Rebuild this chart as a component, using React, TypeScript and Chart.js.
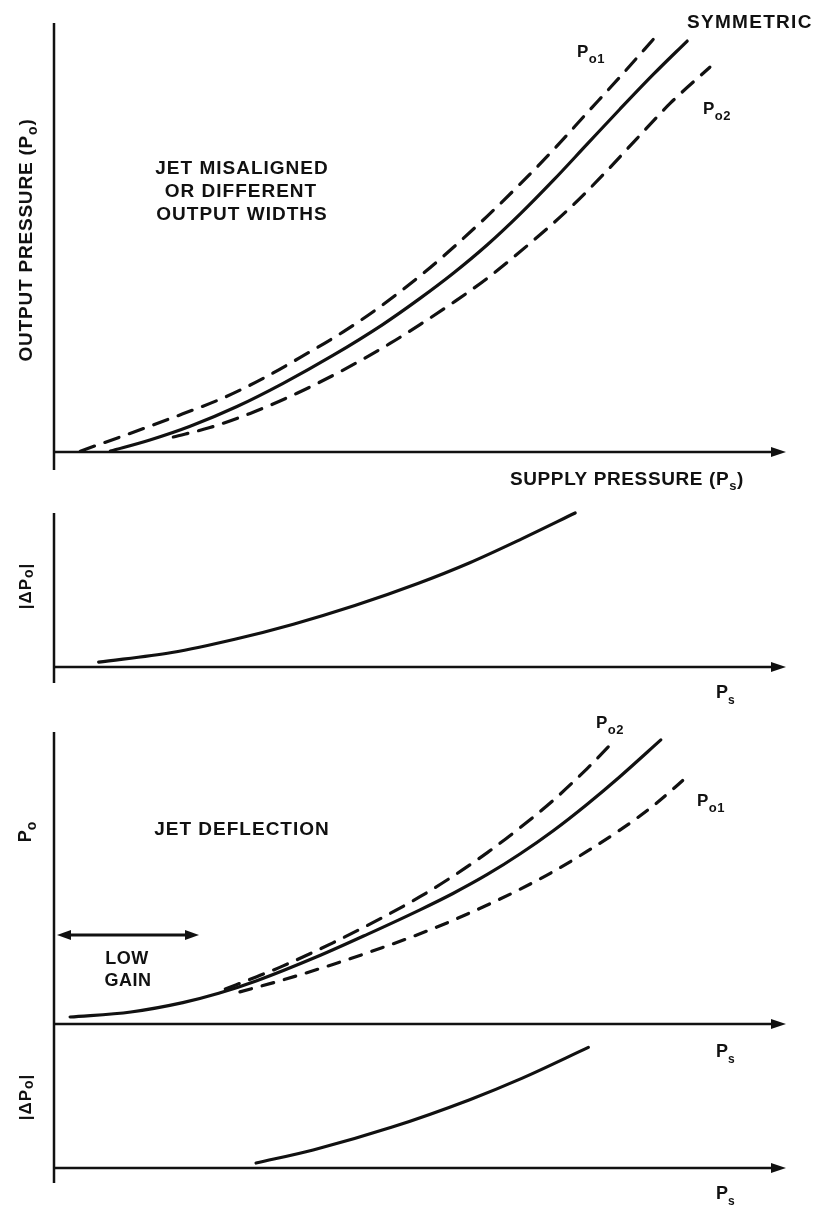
import React, { useEffect, useRef } from "react";
import { Chart, registerables } from "chart.js";

Chart.register(...registerables);

// ---------- DATA (x = supply pressure, relative 0-100; y = relative response 0-100) ----------
// Panel 1: jet misaligned / different output widths
const P1_PO1_X = [3.6, 11.3, 17.6, 23.1, 28.6, 34.0, 39.5, 44.9, 50.7, 54.5, 59.2, 63.7, 68.2, 72.8, 77.3, 82.4];
const P1_PO1_Y = [0.2, 4.9, 8.9, 12.6, 17.2, 22.4, 28.0, 34.3, 42.0, 47.6, 55.0, 62.5, 70.4, 79.0, 87.4, 97.2];
const P1_SYM_X = [7.7, 13.1, 18.6, 25.0, 31.3, 38.1, 44.9, 50.0, 54.5, 59.2, 63.7, 68.2, 72.8, 77.3, 81.8, 86.5];
const P1_SYM_Y = [0.2, 2.8, 6.0, 10.6, 16.0, 22.5, 29.7, 35.8, 41.6, 48.3, 55.5, 63.3, 71.7, 79.9, 87.9, 95.8];
const P1_PO2_X = [16.3, 21.3, 26.8, 33.2, 39.5, 45.9, 50.0, 54.5, 59.2, 65.0, 70.5, 75.0, 79.6, 84.2, 89.6];
const P1_PO2_Y = [3.5, 5.7, 9.0, 13.7, 19.1, 25.3, 29.7, 34.8, 40.5, 48.6, 56.9, 64.6, 73.0, 81.3, 89.7];

// Panel 2: |ΔPo| for panel 1
const P2_X = [6.1, 16.1, 24.7, 32.7, 41.1, 49.7, 56.8, 63.9, 71.2];
const P2_Y = [3.2, 9.4, 18.0, 27.8, 39.9, 54.2, 67.7, 83.2, 100];

// Panel 3: jet deflection
const P3_SYM_X = [2.2, 10.5, 17.6, 22.5, 27.7, 35.9, 42.8, 50.0, 54.5, 59.2, 63.7, 68.2, 72.8, 77.3, 82.9];
const P3_SYM_Y = [2.4, 4.1, 7.3, 10.5, 14.8, 23.0, 30.7, 39.1, 44.7, 51.2, 58.3, 66.2, 75.2, 84.7, 97.3];
const P3_PO2_X = [23.4, 27.7, 31.3, 38.1, 44.9, 50.0, 54.5, 59.2, 63.7, 68.2, 72.8, 76.0];
const P3_PO2_Y = [12.0, 16.2, 19.9, 27.8, 36.5, 43.6, 50.6, 58.7, 67.3, 76.6, 87.4, 95.6];
const P3_PO1_X = [25.4, 31.3, 38.1, 44.9, 50.0, 54.5, 60.0, 63.7, 68.2, 72.8, 77.3, 81.8, 86.9];
const P3_PO1_Y = [11.0, 15.1, 20.4, 26.2, 30.9, 35.5, 41.7, 46.2, 52.2, 59.1, 66.4, 74.6, 85.6];

// Panel 4: |ΔPo| for panel 3
const P4_X = [27.6, 35.4, 46.2, 56.8, 63.9, 73.0];
const P4_Y = [3.9, 14.1, 32.0, 53.4, 70.0, 94.2];

// ---------- STYLE / LAYOUT ----------
const W = 818;
const H = 1211;
const FONT = '"Liberation Sans", Arial, Helvetica, sans-serif';
const INK = "#111";

type Part = { t: string; size: number; dy?: number };
type Label = { parts: Part[]; x: number; y: number; align?: "left" | "center"; sp?: number; rot?: boolean };

const sub = (main: string, s: string, after = "", big = 17, small = 13, dy = 6): Part[] => {
  const p: Part[] = [
    { t: main, size: big },
    { t: s, size: small, dy },
  ];
  if (after) p.push({ t: after, size: big });
  return p;
};

function drawLabel(ctx: CanvasRenderingContext2D, l: Label) {
  ctx.save();
  ctx.translate(l.x, l.y);
  if (l.rot) ctx.rotate(-Math.PI / 2);
  ctx.fillStyle = INK;
  ctx.textBaseline = "alphabetic";
  ctx.textAlign = "left";
  const sp = l.sp || 0;
  let w = 0;
  for (const p of l.parts) {
    ctx.font = `bold ${p.size}px ${FONT}`;
    (ctx as any).letterSpacing = `${sp}px`;
    w += ctx.measureText(p.t).width;
  }
  let cx = l.align === "center" ? -w / 2 : 0;
  for (const p of l.parts) {
    ctx.font = `bold ${p.size}px ${FONT}`;
    (ctx as any).letterSpacing = `${sp}px`;
    ctx.fillText(p.t, cx, p.dy || 0);
    cx += ctx.measureText(p.t).width;
  }
  ctx.restore();
}

const sketchPlugin = {
  id: "sketch",
  beforeDatasetsDraw(chart: any, _args: any, opts: any) {
    const { ctx, chartArea: a } = chart;
    ctx.save();
    ctx.strokeStyle = INK;
    ctx.fillStyle = INK;
    ctx.lineWidth = 2.5;
    ctx.lineCap = "butt";
    ctx.beginPath();
    ctx.moveTo(a.left, a.top - (opts.above || 0));
    ctx.lineTo(a.left, a.bottom + (opts.below || 0));
    ctx.moveTo(a.left, a.bottom);
    ctx.lineTo(a.right - 10, a.bottom);
    ctx.stroke();
    ctx.beginPath();
    ctx.moveTo(a.right, a.bottom);
    ctx.lineTo(a.right - 15, a.bottom - 5);
    ctx.lineTo(a.right - 15, a.bottom + 5);
    ctx.closePath();
    ctx.fill();
    if (opts.doubleArrow) {
      const { x1, x2, y } = opts.doubleArrow;
      ctx.lineWidth = 3;
      ctx.beginPath();
      ctx.moveTo(x1 + 8, y);
      ctx.lineTo(x2 - 8, y);
      ctx.stroke();
      ctx.beginPath();
      ctx.moveTo(x1, y);
      ctx.lineTo(x1 + 14, y - 5);
      ctx.lineTo(x1 + 14, y + 5);
      ctx.closePath();
      ctx.fill();
      ctx.beginPath();
      ctx.moveTo(x2, y);
      ctx.lineTo(x2 - 14, y - 5);
      ctx.lineTo(x2 - 14, y + 5);
      ctx.closePath();
      ctx.fill();
    }
    ctx.restore();
  },
  afterDraw(chart: any, _args: any, opts: any) {
    const ctx = chart.ctx;
    for (const l of opts.labels || []) drawLabel(ctx, l);
  },
};

const series = (xs: number[], ys: number[], dashed: boolean, dash: number[] = [15, 11]) => ({
  data: xs.map((x, i) => ({ x, y: ys[i] })),
  borderColor: INK,
  borderWidth: 3.2,
  borderDash: dashed ? dash : [],
  borderCapStyle: "round",
  borderJoinStyle: "round",
  pointRadius: 0,
  fill: false,
  cubicInterpolationMode: "monotone",
  clip: false,
});

type Panel = {
  top: number;
  bottom: number;
  above: number;
  below: number;
  datasets: any[];
  labels: Label[];
  doubleArrow?: { x1: number; x2: number; y: number };
};

const PANELS: Panel[] = [
  {
    top: 23,
    bottom: 452,
    above: 0,
    below: 18,
    datasets: [
      series(P1_PO1_X, P1_PO1_Y, true),
      series(P1_SYM_X, P1_SYM_Y, false),
      series(P1_PO2_X, P1_PO2_Y, true),
    ],
    labels: [
      { parts: [{ t: "SYMMETRIC", size: 19 }], x: 687, y: 28, sp: 1.3 },
      { parts: sub("P", "o1"), x: 577, y: 57, sp: 0.5 },
      { parts: sub("P", "o2"), x: 703, y: 114, sp: 0.5 },
      { parts: [{ t: "JET MISALIGNED", size: 19 }], x: 242, y: 174, align: "center", sp: 1 },
      { parts: [{ t: "OR DIFFERENT", size: 19 }], x: 241, y: 197, align: "center", sp: 1 },
      { parts: [{ t: "OUTPUT WIDTHS", size: 19 }], x: 242, y: 220, align: "center", sp: 1 },
      { parts: sub("OUTPUT PRESSURE (P", "o", ")", 19, 14, 5), x: 32, y: 240, align: "center", rot: true, sp: 0.8 },
      { parts: sub("SUPPLY PRESSURE (P", "s", ")", 19, 13, 5), x: 510, y: 485, sp: 0.6 },
    ],
  },
  {
    top: 513,
    bottom: 667,
    above: 0,
    below: 16,
    datasets: [series(P2_X, P2_Y, false)],
    labels: [
      { parts: sub("|\u0394P", "o", "|", 17, 14, 2), x: 31, y: 586, align: "center", rot: true, sp: 1 },
      { parts: sub("P", "s", "", 18, 12, 6), x: 716, y: 698 },
    ],
  },
  {
    top: 732,
    bottom: 1024,
    above: 0,
    below: 16,
    datasets: [
      series(P3_PO2_X, P3_PO2_Y, true),
      series(P3_SYM_X, P3_SYM_Y, false),
      series(P3_PO1_X, P3_PO1_Y, true, [12, 11]),
    ],
    doubleArrow: { x1: 57, x2: 199, y: 935 },
    labels: [
      { parts: sub("P", "o2"), x: 596, y: 728, sp: 0.5 },
      { parts: sub("P", "o1"), x: 697, y: 806, sp: 0.5 },
      { parts: [{ t: "JET DEFLECTION", size: 19 }], x: 242, y: 835, align: "center", sp: 1 },
      { parts: [{ t: "LOW", size: 18 }], x: 127, y: 964, align: "center", sp: 0.5 },
      { parts: [{ t: "GAIN", size: 18 }], x: 128, y: 986, align: "center", sp: 0.5 },
      { parts: sub("P", "o", "", 18, 14, 5), x: 31, y: 832, align: "center", rot: true },
      { parts: sub("P", "s", "", 18, 12, 6), x: 716, y: 1057 },
    ],
  },
  {
    top: 1040,
    bottom: 1168,
    above: 0,
    below: 15,
    datasets: [series(P4_X, P4_Y, false)],
    labels: [
      { parts: sub("|\u0394P", "o", "|", 17, 14, 2), x: 31, y: 1097, align: "center", rot: true, sp: 1 },
      { parts: sub("P", "s", "", 18, 12, 6), x: 716, y: 1199 },
    ],
  },
];

export default function App() {
  const refs = [useRef<HTMLCanvasElement>(null), useRef<HTMLCanvasElement>(null), useRef<HTMLCanvasElement>(null), useRef<HTMLCanvasElement>(null)];

  useEffect(() => {
    document.body.style.margin = "0";
    const charts: Chart[] = [];
    PANELS.forEach((p, i) => {
      const c = refs[i].current;
      if (!c) return;
      const chart = new Chart(c, {
        type: "line",
        data: { datasets: p.datasets as any },
        options: {
          responsive: false,
          animation: false,
          devicePixelRatio: 1,
          events: [],
          layout: { padding: { left: 54, right: W - 786, top: p.top, bottom: H - p.bottom } },
          scales: {
            x: { type: "linear", min: 0, max: 100, display: false },
            y: { type: "linear", min: 0, max: 100, display: false },
          },
          plugins: {
            legend: { display: false },
            tooltip: { enabled: false },
            title: { display: false },
            sketch: { above: p.above, below: p.below, labels: p.labels, doubleArrow: p.doubleArrow },
          } as any,
        },
        plugins: [sketchPlugin as any],
      });
      charts.push(chart);
    });
    return () => charts.forEach((ch) => ch.destroy());
  }, []);

  return (
    <div style={{ position: "absolute", left: 0, top: 0, width: W, height: H, background: "#fff" }}>
      {refs.map((r, i) => (
        <canvas
          key={i}
          ref={r}
          width={W}
          height={H}
          style={{ position: "absolute", left: 0, top: 0, width: W, height: H }}
        />
      ))}
    </div>
  );
}
